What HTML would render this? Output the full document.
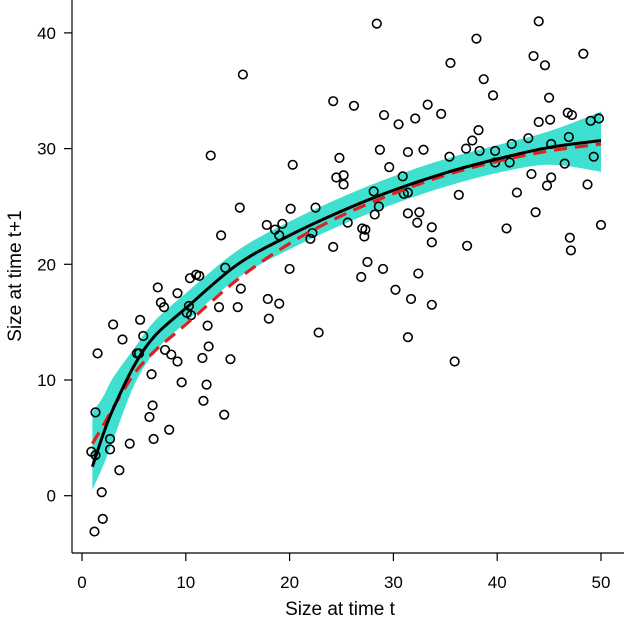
<!DOCTYPE html>
<html><head><meta charset="utf-8"><style>
html,body{margin:0;padding:0;background:#fff;}
svg{display:block;font-family:"Liberation Sans",Arial,sans-serif;}
</style></head><body>
<svg id="chart" width="625" height="622" viewBox="0 0 625 622">
<g id="band"></g>
<g id="points"></g>
<g id="lines"></g>
<g id="axes"></g>
<text x="340" y="615" font-size="19" text-anchor="middle" fill="#000">Size at time t</text>
<text transform="translate(21,276) rotate(-90)" font-size="19" text-anchor="middle" fill="#000">Size at time t+1</text>
</svg>
<script>
const px = [15.5,12.4,20.3,24.2,24.8,24.5,15.2,20.1,22.5,13.4,17.8,18.6,19.3,19.0,22.0,22.2,24.2,20.0,13.8,10.4,11.0,11.3,7.3,9.2,7.6,7.9,10.3,10.5,10.1,13.2,15.0,15.3,17.9,19.0,18.0,22.8,3.0,5.6,3.9,5.9,1.5,5.3,5.5,12.1,12.2,11.6,14.3,8.0,8.6,9.2,6.7,9.6,12.0,11.7,6.8,6.5,13.7,1.3,8.4,2.7,6.9,4.6,2.7,0.9,1.3,3.6,1.9,2.0,1.2,28.4,44.0,38.0,43.5,44.6,48.3,35.5,38.7,39.6,45.0,26.2,29.1,33.3,34.6,30.5,32.1,44.0,45.1,46.8,47.2,49.0,49.8,38.2,37.6,37.0,38.3,39.8,41.4,43.0,46.9,45.2,28.7,31.4,32.9,35.4,39.8,41.2,46.5,49.3,29.6,25.2,25.2,30.9,43.3,45.2,44.8,48.7,28.1,31.0,31.4,36.3,41.9,28.6,28.2,25.6,31.4,32.5,32.3,33.7,27.0,27.3,27.2,33.7,40.9,43.7,50.0,47.0,47.1,37.1,27.5,29.0,26.9,32.4,30.2,31.7,33.7,31.4,35.9];
const py = [36.4,29.4,28.6,34.1,29.2,27.5,24.9,24.8,24.9,22.5,23.4,23.0,23.5,22.5,22.2,22.7,21.5,19.6,19.7,18.8,19.1,19.0,18.0,17.5,16.7,16.3,16.4,15.6,15.8,16.3,16.3,17.9,17.0,16.6,15.3,14.1,14.8,15.2,13.5,13.8,12.3,12.3,12.3,14.7,12.9,11.9,11.8,12.6,12.2,11.6,10.5,9.8,9.6,8.2,7.8,6.8,7.0,7.2,5.7,4.9,4.9,4.5,4.0,3.8,3.5,2.2,0.3,-2.0,-3.1,40.8,41.0,39.5,38.0,37.2,38.2,37.4,36.0,34.6,34.4,33.7,32.9,33.8,33.0,32.1,32.6,32.3,32.5,33.1,32.9,32.4,32.6,31.6,30.7,30.0,29.8,29.8,30.4,30.9,31.0,30.4,29.9,29.7,29.9,29.3,28.8,28.8,28.7,29.3,28.4,27.7,26.9,27.6,27.8,27.5,26.8,26.9,26.3,26.1,26.2,26.0,26.2,25.0,24.3,23.6,24.4,24.5,23.6,23.2,23.1,23.0,22.4,21.9,23.1,24.5,23.4,22.3,21.2,21.6,20.2,19.6,18.9,19.2,17.8,17.0,16.5,13.7,11.6];
const fitX = [1,2,3,5,7,10,15,20,25,30,35,40,45,50];
const fitBlack = [2.5,5.2,7.5,11.2,13.8,16.2,20.0,22.5,24.6,26.4,27.9,29.1,30.1,30.7];
const fitRed = [4.5,6.0,7.6,10.5,12.5,14.8,18.7,21.8,24.2,26.1,27.7,28.9,29.8,30.4];
const bandUpper = [7.2,8.5,10.2,12.7,15.1,17.5,21.2,23.7,25.8,27.6,29.1,30.3,31.5,33.2];
const bandLower = [0.5,2.5,4.8,9.5,12.4,15.0,18.8,21.3,23.4,25.2,26.7,27.9,28.6,28.0];
const xTicks = [0,10,20,30,40,50];
const yTicks = [0,10,20,30,40];

const NS = "http://www.w3.org/2000/svg";
const X = v => 82 + v * 10.38;
const Y = v => 495.7 - v * 11.57;
function mk(tag, attrs, parent){
  const e = document.createElementNS(NS, tag);
  for (const k in attrs) e.setAttribute(k, attrs[k]);
  parent.appendChild(e); return e;
}
// Catmull-Rom smoothing; returns path segments (without initial M when cont=true)
function smooth(P, cont){
  let s = (cont ? 'L' : 'M') + P[0][0] + ',' + P[0][1];
  for (let i=0;i<P.length-1;i++){
    const p0=P[i-1]||P[i], p1=P[i], p2=P[i+1], p3=P[i+2]||P[i+1];
    const c1=[p1[0]+(p2[0]-p0[0])/6, p1[1]+(p2[1]-p0[1])/6];
    const c2=[p2[0]-(p3[0]-p1[0])/6, p2[1]-(p3[1]-p1[1])/6];
    s += ' C'+c1[0]+','+c1[1]+' '+c2[0]+','+c2[1]+' '+p2[0]+','+p2[1];
  }
  return s;
}
const up = fitX.map((x,i)=>[X(x),Y(bandUpper[i])]);
const lo = fitX.map((x,i)=>[X(x),Y(bandLower[i])]).reverse();
const band = document.getElementById('band');
const bp = mk('path',{d:smooth(up,false)+' '+smooth(lo,true)+' Z',fill:'#40E0D0',stroke:'none'},band);



const pts = document.getElementById('points');
px.forEach((x,i)=>{
  const c = mk('circle',{cx:X(x),cy:Y(py[i]),r:4.3,fill:'none',stroke:'#000','stroke-width':1.6},pts);
  
  
});

const lines = document.getElementById('lines');
const red = mk('path',{d:smooth(fitX.map((x,i)=>[X(x),Y(fitRed[i])]),false),fill:'none',stroke:'#E0201B','stroke-width':3.2,'stroke-dasharray':'13 8'},lines);


const blk = mk('path',{d:smooth(fitX.map((x,i)=>[X(x),Y(fitBlack[i])]),false),fill:'none',stroke:'#000','stroke-width':3},lines);



const ax = document.getElementById('axes');
const xl = mk('line',{x1:72,y1:553,x2:624,y2:553,stroke:'#000','stroke-width':1.2},ax);


const yl = mk('line',{x1:72,y1:0,x2:72,y2:553,stroke:'#000','stroke-width':1.2},ax);


xTicks.forEach(t=>{
  const tk = mk('line',{x1:X(t),y1:553,x2:X(t),y2:561,stroke:'#000','stroke-width':1.2},ax);
  
  
  const lb = mk('text',{x:X(t),y:588,'font-size':17,'text-anchor':'middle'},ax);
  lb.textContent = t;
  
  
});
yTicks.forEach(t=>{
  const tk = mk('line',{x1:64,y1:Y(t),x2:72,y2:Y(t),stroke:'#000','stroke-width':1.2},ax);
  
  
  const lb = mk('text',{x:56,y:Y(t)+6,'font-size':17,'text-anchor':'end'},ax);
  lb.textContent = t;
  
  
});
</script>
</body></html>
